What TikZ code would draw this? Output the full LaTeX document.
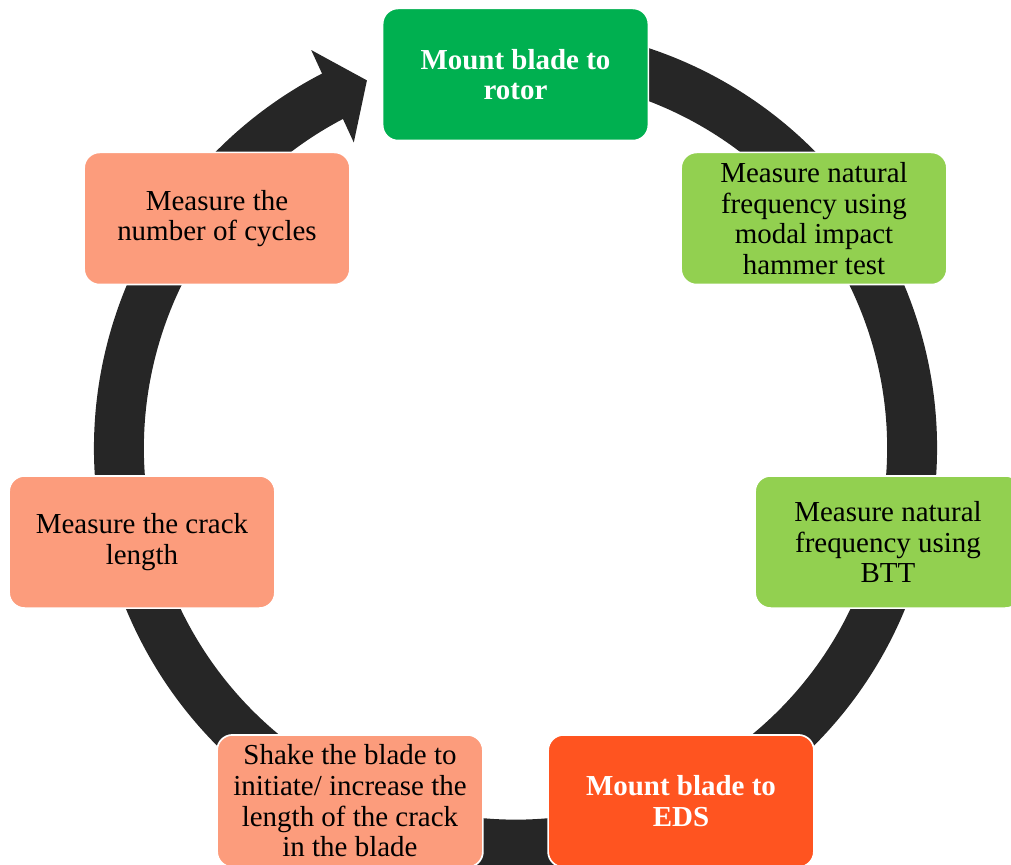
\documentclass[tikz,border=0pt]{standalone}
\usepackage{fontspec}
\setmainfont{Liberation Serif}
\usetikzlibrary{arrows.meta,bending}

\definecolor{ringgray}{HTML}{262626}
\definecolor{rotorgreen}{HTML}{00B050}
\definecolor{testgreen}{HTML}{92D050}
\definecolor{edsred}{HTML}{FF5420}
\definecolor{crackpink}{HTML}{FC9C7C}
\newcommand{\stagefont}{\fontsize{20.6}{21.8}\selectfont}

\begin{document}
\begin{tikzpicture}[x=0.025cm, y=0.025cm,
    stage/.style={draw=white, line width=1.2pt, rounded corners=11pt,
        minimum width=189pt, minimum height=94pt, inner sep=0pt,
        align=center, font=\stagefont},
    boldstage/.style={stage, font=\stagefont\bfseries, text=white}]
    \useasboundingbox (0,0) rectangle (1011,864);

    % ring with arrow
    \coordinate (hub) at (515.5,416);
    \draw[ringgray, line width=35.5pt, -{Triangle[length=27pt,width=71pt,flex]}]
        (hub) ++(75:396.5) arc[start angle=75, end angle=-248, radius=396.5];

    % stages
    \node[boldstage, fill=rotorgreen] (rotor) at (515.5,789.5) {Mount blade to\\rotor};
    \node[stage, fill=testgreen] (hammer) at (814,645.5) {Measure natural\\frequency using\\modal impact\\hammer test};
    \node[stage, fill=testgreen] (btt) at (888,322) {Measure natural\\frequency using\\BTT};
    \node[boldstage, fill=edsred] (eds) at (681,63) {Mount blade to\\EDS};
    \node[stage, fill=crackpink] (shake) at (350,63) {Shake the blade to\\initiate/ increase the\\length of the crack\\in the blade};
    \node[stage, fill=crackpink] (crack) at (142,322) {Measure the crack\\length};
    \node[stage, fill=crackpink] (cycles) at (217,645.5) {Measure the\\number of cycles};
\end{tikzpicture}
\end{document}
